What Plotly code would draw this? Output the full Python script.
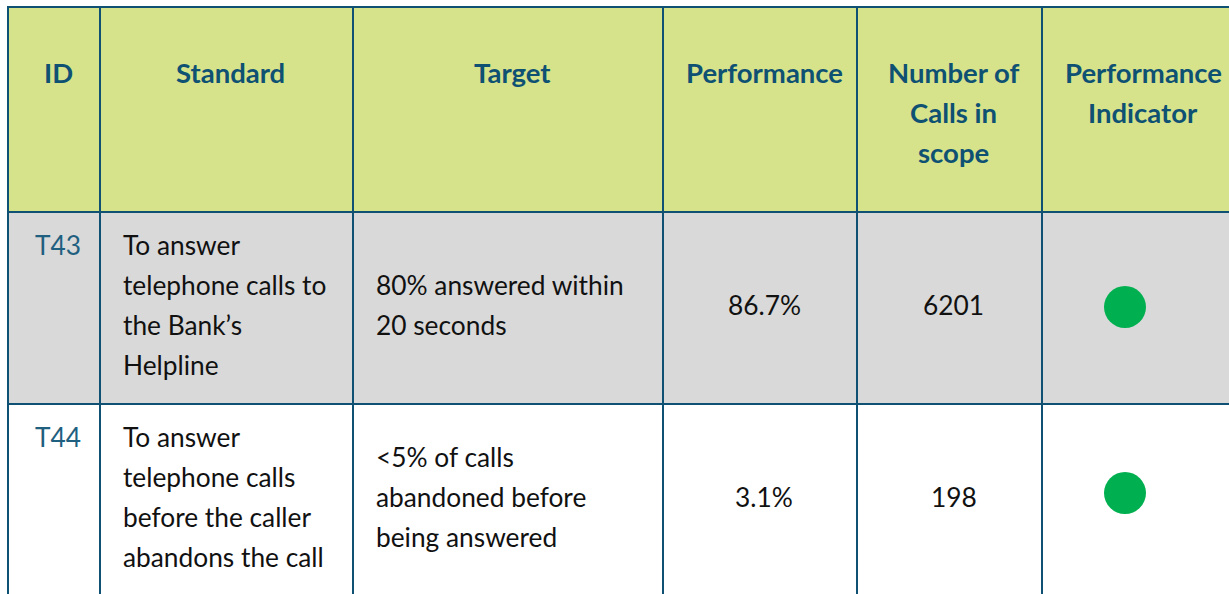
import plotly.graph_objects as go

# ---------------- data ----------------
header_lines = [
    ["ID"],
    ["Standard"],
    ["Target"],
    ["Performance"],
    ["Number of", "Calls in", "scope"],
    ["Performance", "Indicator"],
]
ids = ["T43", "T44"]
standards = [
    ["To answer", "telephone calls to", "the Bank’s", "Helpline"],
    ["To answer", "telephone calls", "before the caller", "abandons the call"],
]
targets = [
    ["80% answered within", "20 seconds"],
    ["<5% of calls", "abandoned before", "being answered"],
]
performance = ["86.7%", "3.1%"]
calls_in_scope = [6201, 198]
indicator = ["green", "green"]

# ---------------- layout / style ----------------
W, H = 1229, 594
col_edges = [8, 100, 353, 663, 857, 1042, 1240]
row_edges = [7, 212, 404, 596]
row_fills = ["#d6e38b", "#d9d9d9", "#ffffff"]
border = "#0e5173"
head_color = "#0e5173"
id_color = "#1f5f80"
body_color = "#111111"
indicator_colors = {"green": "#00b050"}
line_gap = 40
head_first = 65
body_first = 33
pad_left = 21
center_shift = 4
font = "Lato"
fs_head = 27.5
fs_body = 26.3
indicator_x = 1125
indicator_dy = [-1, -7]

fig = go.Figure()
shapes = []
annotations = []

# cell backgrounds
for r in range(3):
    shapes.append(dict(type="rect", xref="x", yref="y", x0=col_edges[0], x1=col_edges[-1],
                       y0=row_edges[r], y1=row_edges[r + 1], fillcolor=row_fills[r],
                       line=dict(width=0), layer="below"))
# borders
for x in col_edges[:-1]:
    shapes.append(dict(type="line", xref="x", yref="y", x0=x, x1=x, y0=row_edges[0], y1=row_edges[-1],
                       line=dict(color=border, width=2)))
for y in row_edges[:-1]:
    shapes.append(dict(type="line", xref="x", yref="y", x0=col_edges[0] - 1, x1=col_edges[-1], y0=y, y1=y,
                       line=dict(color=border, width=2)))


def mid(c):
    return (col_edges[c] + min(col_edges[c + 1], 1236)) / 2 + center_shift


def add_text(x, y, text, color, size, bold=False, anchor="center"):
    annotations.append(dict(x=x, y=y, xref="x", yref="y", text=f"<b>{text}</b>" if bold else text,
                            showarrow=False, xanchor=anchor, yanchor="middle",
                            font=dict(family=font, size=size, color=color)))


# header
for c, lines in enumerate(header_lines):
    for i, ln in enumerate(lines):
        add_text(mid(c), row_edges[0] + head_first + i * line_gap, ln, head_color, fs_head, bold=True)

# body rows
ind_x, ind_y, ind_c = [], [], []
for r in range(len(ids)):
    top = row_edges[r + 1]
    bottom = row_edges[r + 2]
    middle = (top + bottom) / 2 - 3
    add_text(mid(0), top + body_first, ids[r], id_color, fs_body)
    for i, ln in enumerate(standards[r]):
        add_text(col_edges[1] + pad_left, top + body_first + i * line_gap, ln, body_color, fs_body, anchor="left")
    n = len(targets[r])
    for i, ln in enumerate(targets[r]):
        add_text(col_edges[2] + pad_left, middle + (i - (n - 1) / 2) * line_gap, ln, body_color, fs_body,
                 anchor="left")
    add_text(mid(3), middle, performance[r], body_color, fs_body)
    add_text(mid(4), middle, f"{calls_in_scope[r]}", body_color, fs_body)
    ind_x.append(indicator_x)
    ind_y.append((top + bottom) / 2 + indicator_dy[r])
    ind_c.append(indicator_colors[indicator[r]])

fig.add_trace(go.Scatter(x=ind_x, y=ind_y, mode="markers",
                         marker=dict(size=42, color=ind_c, line=dict(width=0)),
                         hoverinfo="skip", showlegend=False))

fig.update_layout(
    width=W, height=H, margin=dict(l=0, r=0, t=0, b=0),
    paper_bgcolor="white", plot_bgcolor="white",
    xaxis=dict(range=[0, W], visible=False, fixedrange=True),
    yaxis=dict(range=[H, 0], visible=False, fixedrange=True),
    shapes=shapes, annotations=annotations, showlegend=False,
)
fig.write_html(
    "out.html",
    config={"displayModeBar": False},
    post_script="document.body.style.margin='0';document.body.style.overflow='hidden';",
)
